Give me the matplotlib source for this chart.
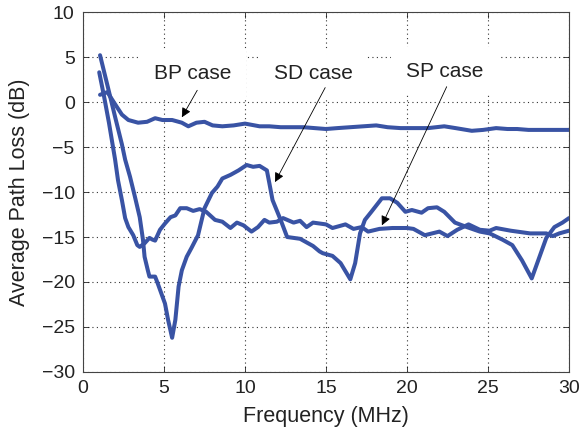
import matplotlib
matplotlib.use("Agg")
import matplotlib.pyplot as plt

plt.rcParams['font.family'] = ['Liberation Sans', 'DejaVu Sans']

bp_x = [1.05, 1.5, 2.0, 2.4, 2.8, 3.4, 3.95, 4.45, 4.9, 5.5, 6.1, 6.5, 7.0, 7.5, 8.0, 8.6, 9.3,
        10.0, 10.9, 11.5, 12.2, 13.0, 13.6, 14.3, 15.0, 15.7, 16.5, 17.3, 18.1, 18.8, 19.6, 20.5,
        21.3, 22.3, 23.0, 24.0, 24.7, 25.5, 26.2, 26.8, 27.5, 28.3, 29.2, 30.0]
bp_y = [0.8, 1.1, -0.3, -1.4, -2.0, -2.3, -2.2, -1.8, -2.0, -2.0, -2.3, -2.7, -2.3, -2.2, -2.6,
        -2.7, -2.6, -2.4, -2.7, -2.7, -2.8, -2.8, -2.8, -2.9, -3.0, -2.9, -2.8, -2.7, -2.6, -2.8,
        -2.9, -2.9, -2.9, -2.7, -2.9, -3.2, -3.1, -2.9, -3.0, -3.0, -3.1, -3.1, -3.1, -3.1]

sp_x = [1.0, 1.3, 1.6, 1.98, 2.16, 2.4, 2.6, 2.8, 3.1, 3.35, 3.5, 3.8, 4.1, 4.3, 4.45, 4.75,
        5.06, 5.4, 5.7, 6.0, 6.4, 6.8, 7.2, 7.6, 8.15, 8.6, 9.1, 9.5, 9.9, 10.4, 10.8, 11.2,
        11.5, 11.97, 12.35, 13.0, 13.4, 13.8, 14.2, 15.0, 15.4, 16.2, 16.7, 17.2, 17.6, 18.3,
        19.1, 20.0, 20.4, 21.1, 22.0, 22.5, 23.1, 23.8, 24.5, 25.1, 25.5, 26.4, 27.6, 28.6,
        29.0, 29.4, 30.0]
sp_y = [3.3, 0.6, -2.3, -6.4, -8.7, -10.9, -12.9, -13.9, -14.8, -15.9, -16.1, -15.7, -15.1,
        -15.3, -15.4, -14.2, -13.5, -12.8, -12.6, -11.8, -11.8, -12.1, -11.9, -12.2, -13.1,
        -13.3, -14.0, -13.4, -13.7, -14.4, -13.9, -13.1, -13.4, -13.3, -12.9, -13.4, -13.2,
        -13.9, -13.4, -13.6, -14.0, -13.6, -14.1, -13.9, -14.4, -14.1, -14.0, -14.0, -14.1,
        -14.8, -14.4, -14.9, -14.2, -13.6, -14.2, -14.3, -14.0, -14.3, -14.6, -14.6, -14.9,
        -14.6, -14.3]

sd_x = [1.05, 1.5, 2.0, 2.4, 2.6, 2.9, 3.2, 3.5, 3.7, 3.8, 4.0, 4.1, 4.45, 4.6, 4.9, 5.06,
        5.25, 5.5, 5.7, 5.9, 6.1, 6.4, 6.7, 7.1, 7.5, 7.96, 8.3, 8.6, 9.1, 9.6, 10.1, 10.5,
        10.9, 11.35, 11.5, 11.7, 12.2, 12.6, 13.0, 13.4, 13.9, 14.2, 14.6, 14.8, 15.4, 15.9,
        16.5, 16.8, 17.1, 17.4, 17.8, 18.45, 18.95, 19.4, 19.9, 20.3, 20.9, 21.3, 21.85, 22.3,
        22.96, 23.7, 24.5, 25.1, 25.9, 26.5, 27.1, 27.7, 28.1, 28.6, 29.1, 29.6, 30.0]
sd_y = [5.2, 1.9, -1.8, -4.7, -6.4, -8.3, -10.5, -12.8, -15.3, -17.2, -18.7, -19.4, -19.4,
        -20.1, -21.6, -22.4, -24.2, -26.2, -24.2, -20.5, -18.7, -17.2, -16.2, -14.8, -11.8,
        -10.1, -9.4, -8.5, -8.1, -7.6, -7.0, -7.2, -7.1, -7.6, -9.0, -10.9, -13.1, -15.0,
        -15.1, -15.2, -15.7, -16.0, -16.6, -16.8, -17.1, -17.9, -19.7, -17.9, -14.6, -13.1,
        -12.2, -10.7, -10.7, -11.2, -12.2, -12.0, -12.3, -11.8, -11.7, -12.2, -13.4, -13.9,
        -14.4, -14.6, -15.3, -15.9, -17.6, -19.6, -17.6, -15.1, -13.9, -13.4, -12.9]

labels = ["BP case", "SD case", "SP case"]
x_ticks = [0, 5, 10, 15, 20, 25, 30]
y_ticks = [10, 5, 0, -5, -10, -15, -20, -25, -30]

color = "#3953a4"
txt = '#222222'

fig = plt.figure(figsize=(5.79, 4.32), dpi=100)
ax = fig.add_axes([0.1434, 0.1389, 0.9827 - 0.1434, 0.9722 - 0.1389])

for xs, ys in [(bp_x, bp_y), (sp_x, sp_y), (sd_x, sd_y)]:
    ax.plot(xs, ys, color=color, lw=2.9, zorder=5, solid_joinstyle='round',
            solid_capstyle='round')

ax.set_xlim(0, 30)
ax.set_ylim(-30, 10)
ax.set_xticks(x_ticks)
ax.set_yticks(y_ticks)
ax.grid(True, color='#333333', linestyle=(0, (1, 3)), lw=0.8)
ax.set_axisbelow(True)
ax.tick_params(direction='in', length=4, width=0.6, labelsize=14, top=True, right=True,
               colors=txt, pad=6)
for s in ax.spines.values():
    s.set_linewidth(0.8)
    s.set_color('#444444')

ax.set_xlabel("Frequency (MHz)", fontsize=15.5, color=txt, labelpad=6)
ax.set_ylabel("Average Path Loss (dB)", fontsize=15.5, color=txt, labelpad=8)

text_pos = [(6.8, 3.2), (14.2, 3.2), (22.3, 3.4)]
arrow_start = [(7.05, 1.3), (14.95, 1.6), (22.45, 1.7)]
arrow_end = [(6.1, -1.7), (11.85, -8.9), (18.45, -13.7)]

for lab, tp in zip(labels, text_pos):
    ax.text(tp[0], tp[1], lab, fontsize=15, ha='center', va='center', color=txt,
            zorder=3, bbox=dict(boxstyle='square,pad=0.7', fc='white', ec='none'))
for st, en in zip(arrow_start, arrow_end):
    ax.annotate('', xy=en, xytext=st, zorder=6,
                arrowprops=dict(arrowstyle='-|>', color='black', lw=0.6,
                                mutation_scale=14, shrinkA=0, shrinkB=0))

fig.savefig("out.png", dpi=100)
